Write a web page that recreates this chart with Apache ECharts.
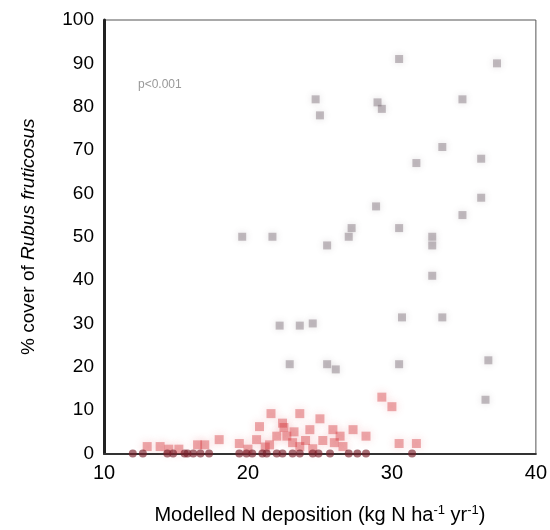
<!DOCTYPE html>
<html>
<head>
<meta charset="utf-8">
<script src="https://cdn.jsdelivr.net/npm/echarts@6/dist/echarts.min.js"></script>
<style>
  html, body { margin: 0; padding: 0; background: #fff; }
  #chart { width: 550px; height: 530px; }
</style>
</head>
<body>
<div id="chart"></div>
<script>
// tick labels
var xTicks = [10, 20, 30, 40];
var yTicks = [0, 10, 20, 30, 40, 50, 60, 70, 80, 90, 100];

// grey points (upper part of the cloud)
var greyX = [24.7, 25.0, 29.3, 29.0, 30.5, 34.9, 37.3, 33.5, 31.7, 36.2, 36.2, 28.9, 27.2, 30.5, 32.8, 34.9,
             19.6, 21.7, 25.5, 27.0, 32.8, 32.8, 30.7, 33.5, 24.5, 22.2, 23.6, 25.5, 30.5, 36.7, 22.9, 26.1, 36.5];
var greyY = [81.7, 78.0, 79.5, 81.0, 91.0, 81.7, 90.0, 70.7, 67.0, 68.0, 59.0, 57.0, 52.0, 52.0, 50.0, 55.0,
             50.0, 50.0, 48.0, 50.0, 48.0, 41.0, 31.4, 31.4, 30.0, 29.5, 29.5, 20.6, 20.6, 21.5, 20.6, 19.4, 12.4];

// red points (low cover)
var redX = [20.6, 22.0, 22.7, 24.3, 24.5, 23.6, 21.6, 23.6, 20.8, 18.0, 19.4, 13.0, 13.9, 25.9, 26.4, 26.6,
            27.3, 28.2, 30.0, 29.3, 30.5, 31.7, 22.4, 23.1, 25.0, 16.5, 15.2, 21.2,
            22.5, 23.2, 24.0, 21.5, 25.2, 26.0, 20.0, 17.0, 14.5];
var redY = [3.2, 4.0, 4.0, 5.5, 1.1, 1.6, 9.2, 9.2, 6.2, 3.2, 2.3, 1.6, 1.6, 5.5, 4.0, 1.6,
            5.5, 4.0, 10.8, 13.0, 2.3, 2.3, 7.0, 2.5, 8.0, 2.0, 1.0, 1.5,
            6.0, 5.0, 3.0, 2.0, 3.0, 2.5, 1.0, 2.0, 1.0];

// zero-cover points along the bottom
var zeroX = [12.0, 12.7, 14.4, 14.8, 15.6, 15.8, 16.2, 16.7, 17.3, 19.4, 19.9, 20.3, 21.0, 21.3, 22.0, 22.4,
             23.1, 23.6, 24.5, 24.9, 25.7, 27.0, 27.6, 28.2, 31.4];
var zeroY = [0, 0, 0, 0, 0, 0, 0, 0, 0, 0, 0, 0, 0, 0, 0, 0,
             0, 0, 0, 0, 0, 0, 0, 0, 0];

function pairs(xs, ys) {
    var out = [];
    for (var i = 0; i < xs.length; i++) {
        out.push([xs[i], ys[i]]);
    }
    return out;
}

var myChart = echarts.init(document.getElementById('chart'));

var font = 'Liberation Sans, Arial, sans-serif';

var option = {
    animation: false,
    grid: {
        left: 104,
        right: 13,
        top: 20,
        bottom: 73,
        show: true,
        borderColor: '#555',
        borderWidth: 1
    },
    xAxis: {
        type: 'value',
        min: 10,
        max: 40,
        interval: 10,
        name: '{n|Modelled N deposition (kg N ha}{s|-1}{n| yr}{s|-1}{n|)}',
        nameLocation: 'middle',
        nameGap: 50,
        nameTextStyle: {
            rich: {
                n: { fontSize: 20, color: '#000', fontFamily: font },
                s: { fontSize: 13, color: '#000', fontFamily: font, verticalAlign: 'top', padding: [0, 0, 10, 0] }
            }
        },
        axisLine: { show: true, onZero: false, lineStyle: { color: '#333', width: 2 } },
        axisTick: { show: false },
        splitLine: { show: false },
        axisLabel: { color: '#000', fontSize: 20, fontFamily: font, margin: 10 }
    },
    yAxis: {
        type: 'value',
        min: 0,
        max: 100,
        interval: 10,
        name: '{n|% cover of }{i|Rubus fruticosus}',
        nameLocation: 'middle',
        nameGap: 66,
        nameRotate: 90,
        nameTextStyle: {
            rich: {
                n: { fontSize: 19, color: '#000', fontFamily: font },
                i: { fontSize: 19, color: '#000', fontFamily: font, fontStyle: 'italic' }
            }
        },
        axisLine: { show: true, onZero: false, lineStyle: { color: '#222', width: 3 } },
        axisTick: { show: false },
        splitLine: { show: false },
        axisLabel: { color: '#000', fontSize: 19, fontFamily: font, margin: 10 }
    },
    graphic: [{
        type: 'text',
        left: 138,
        top: 79,
        style: { text: 'p<0.001', fill: '#999', fontSize: 12, fontFamily: font }
    }],
    series: [
        {
            name: 'grey',
            type: 'scatter',
            symbol: 'rect',
            symbolSize: 8,
            itemStyle: { color: 'rgba(110,95,105,0.5)', shadowBlur: 7, shadowColor: 'rgba(110,95,105,0.5)' },
            data: pairs(greyX, greyY)
        },
        {
            name: 'red',
            type: 'scatter',
            symbol: 'rect',
            symbolSize: 9,
            itemStyle: { color: 'rgba(210,50,55,0.5)', shadowBlur: 8, shadowColor: 'rgba(230,90,100,0.6)' },
            data: pairs(redX, redY)
        },
        {
            name: 'zero',
            type: 'scatter',
            symbolSize: 8,
            itemStyle: { color: 'rgba(120,30,40,0.8)' },
            data: pairs(zeroX, zeroY)
        }
    ]
};

myChart.setOption(option);
</script>
</body>
</html>
